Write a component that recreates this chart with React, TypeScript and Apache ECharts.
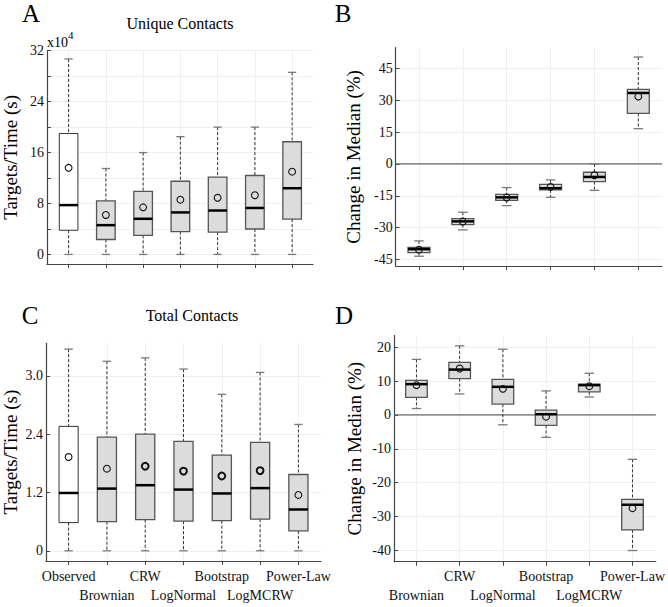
import React, { useEffect, useRef } from "react";
import * as echarts from "echarts";

const CATEGORIES = ["Observed", "Brownian", "CRW", "LogNormal", "Bootstrap", "LogMCRW", "Power-Law"];

// Panel A: Unique contacts (x10^4)
const A_MIN = [0, 0, 0, 0, 0, 0, 0];
const A_Q1 = [3.8, 2.35, 3.0, 3.6, 3.5, 4.0, 5.55];
const A_MEDIAN = [7.75, 4.6, 5.6, 6.6, 6.9, 7.3, 10.4];
const A_Q3 = [19.0, 8.4, 9.9, 11.5, 12.15, 12.4, 17.7];
const A_MAX = [30.7, 13.5, 16.0, 18.5, 20.0, 20.0, 28.6];
const A_MEAN = [13.6, 6.2, 7.4, 8.6, 8.9, 9.3, 13.0];

// Panel B: change in median (%) vs observed, models only
const B_MIN = [-43.4, -31.0, -19.6, -15.7, -12.4, 16.6];
const B_Q1 = [-41.7, -28.5, -17.1, -12.2, -8.3, 23.8];
const B_MEDIAN = [-40.1, -27.0, -15.7, -11.4, -6.1, 33.4];
const B_Q3 = [-39.2, -25.7, -14.3, -9.6, -3.9, 35.1];
const B_MAX = [-36.2, -22.7, -11.1, -7.5, 0, 50.3];
const B_MEAN = [-40.3, -27.1, -15.8, -10.8, -5.3, 31.7];

// Panel C: Total contacts
const C_MIN = [0, 0, 0, 0, 0, 0, 0];
const C_Q1 = [0.58, 0.6, 0.64, 0.61, 0.62, 0.65, 0.41];
const C_MEDIAN = [1.19, 1.28, 1.35, 1.26, 1.18, 1.29, 0.85];
const C_Q3 = [2.56, 2.34, 2.4, 2.25, 1.97, 2.23, 1.57];
const C_MAX = [4.15, 3.9, 3.97, 3.74, 3.22, 3.67, 2.6];
const C_MEAN = [1.93, 1.69, 1.74, 1.64, 1.54, 1.65, 1.15];

// Panel D: change in median (%)
const D_MIN = [1.9, 6.2, -2.9, -6.6, 5.3, -40.0];
const D_Q1 = [5.2, 10.7, 3.2, -3.1, 6.8, -33.9];
const D_MEDIAN = [9.1, 13.4, 8.3, 0.2, 8.8, -26.5];
const D_Q3 = [10.2, 15.5, 10.5, 1.4, 9.1, -24.9];
const D_MAX = [16.4, 20.4, 19.4, 7.1, 12.3, -13.1];
const D_MEAN = [8.8, 13.7, 7.7, -0.5, 8.5, -27.5];

// Tick values / labels
const A_TICKS = [0, 4, 8, 12, 16, 20, 24, 28, 32];
const A_LABELS = [0, 8, 16, 24, 32];
const B_LABELS = [-45, -30, -15, 0, 15, 30, 45];
const C_TICK_VALUES = [0, 1.2, 2.4, 3.6];
const C_TICK_LABELS = ["0", "1.2", "2.4", "3.0"];
const D_LABELS = [-40, -30, -20, -10, 0, 10, 20];
const X_ALL = [1, 2, 3, 4, 5, 6, 7];
const X_MODELS = [1, 2, 3, 4, 5, 6];
// staggered category label rows (positions on each panel's x scale)
const C_ROW1 = [1, 3, 5, 7];
const C_ROW2 = [2, 4, 6];
const D_ROW1 = [2, 4, 6];
const D_ROW2 = [1, 3, 5];

const SERIF = "'Liberation Serif', 'Times New Roman', serif";

function rows(mins: number[], q1: number[], med: number[], q3: number[], max: number[], mean: number[]) {
  return mins.map((m, i) => [i + 1, m, q1[i], med[i], q3[i], max[i], mean[i]]);
}

function boxSeries(idx: number, data: number[][], firstIsObserved: boolean, boldMeans: number[]) {
  return {
    type: "custom",
    xAxisIndex: idx,
    yAxisIndex: idx,
    data,
    encode: { x: 0, y: [1, 2, 3, 4, 5, 6] },
    z: 3,
    clip: false,
    silent: true,
    renderItem: (params: any, api: any) => {
      const x = api.value(0);
      const pMin = api.coord([x, api.value(1)]);
      const pQ1 = api.coord([x, api.value(2)]);
      const pMed = api.coord([x, api.value(3)]);
      const pQ3 = api.coord([x, api.value(4)]);
      const pMax = api.coord([x, api.value(5)]);
      const pMean = api.coord([x, api.value(6)]);
      const l = api.coord([x - 0.25, 0])[0];
      const r = api.coord([x + 0.25, 0])[0];
      const cx = pMed[0];
      const capHalf = (r - l) * 0.22;
      const observed = firstIsObserved && params.dataIndex === 0;
      const bold = boldMeans.indexOf(params.dataIndex) >= 0;
      const whisk = { stroke: "#333", lineWidth: 1, lineDash: [3, 2] };
      const cap = { stroke: "#7a7a7a", lineWidth: 1.3 };
      return {
        type: "group",
        children: [
          { type: "line", shape: { x1: cx, y1: pMax[1], x2: cx, y2: pQ3[1] }, style: whisk },
          { type: "line", shape: { x1: cx, y1: pQ1[1], x2: cx, y2: pMin[1] }, style: whisk },
          { type: "line", shape: { x1: cx - capHalf, y1: pMax[1], x2: cx + capHalf, y2: pMax[1] }, style: cap },
          { type: "line", shape: { x1: cx - capHalf, y1: pMin[1], x2: cx + capHalf, y2: pMin[1] }, style: cap },
          {
            type: "rect",
            shape: { x: l, y: pQ3[1], width: r - l, height: pQ1[1] - pQ3[1] },
            style: { fill: observed ? "#ffffff" : "#dcdcdc", stroke: observed ? "#333" : "#555", lineWidth: observed ? 1 : 1.3 },
          },
          { type: "line", shape: { x1: l, y1: pMed[1], x2: r, y2: pMed[1] }, style: { stroke: "#000", lineWidth: 2.5 } },
          {
            type: "circle",
            shape: { cx, cy: pMean[1], r: 3.4 },
            style: { fill: "none", stroke: "#111", lineWidth: bold ? 2 : 1.1 },
          },
        ],
      };
    },
  };
}

const GRID_LINE = { show: true, lineStyle: { color: "#f0f0f0", width: 1 } };

function yAxis(idx: number, min: number, max: number, ticks: number[], labels: number[], name: string, nameGap: number, fmt?: (v: number) => string) {
  return {
    type: "value",
    gridIndex: idx,
    min,
    max,
    name,
    nameLocation: "middle",
    nameGap,
    nameTextStyle: { fontFamily: SERIF, fontSize: 19, color: "#000" },
    axisLine: { show: true, onZero: false, lineStyle: { color: "#444", width: 1.2 } },
    axisTick: { show: true, inside: true, length: 4, customValues: ticks, lineStyle: { color: "#444" } },
    axisLabel: {
      show: true,
      customValues: labels,
      margin: 3,
      fontFamily: SERIF,
      fontSize: 14,
      color: "#111",
      showMinLabel: true,
      showMaxLabel: true,
      hideOverlap: false,
      formatter: fmt || ((v: number) => String(v)),
    },
    splitLine: GRID_LINE,
  };
}

function xAxis(gridIdx: number, min: number, max: number, ticks: number[] | null, labels: number[] | null, offsetIndex: number, margin: number) {
  return {
    type: "value",
    gridIndex: gridIdx,
    min,
    max,
    position: "bottom",
    axisLine: { show: !!ticks, onZero: false, lineStyle: { color: "#444", width: 1.2 } },
    axisTick: { show: !!ticks, inside: false, length: 4, customValues: ticks || [], lineStyle: { color: "#444" } },
    axisLabel: {
      show: !!labels,
      customValues: labels || [],
      margin,
      fontFamily: SERIF,
      fontSize: 14,
      color: "#111",
      showMinLabel: true,
      showMaxLabel: true,
      hideOverlap: false,
      formatter: (v: number) => CATEGORIES[Math.round(v) - 1 + offsetIndex],
    },
    splitLine: ticks ? GRID_LINE : { show: false },
  };
}

function zeroLine(idx: number, xmin: number, xmax: number) {
  return {
    type: "line",
    xAxisIndex: idx,
    yAxisIndex: idx,
    data: [
      [xmin, 0],
      [xmax, 0],
    ],
    symbol: "none",
    silent: true,
    z: 1,
    lineStyle: { color: "#6a6a6a", width: 1.3 },
  };
}

function label(text: string, x: number, y: number, size: number, align = "center") {
  return {
    type: "text",
    x,
    y,
    style: { text, fontSize: size, fontFamily: SERIF, fill: "#000", align, verticalAlign: "middle", textAlign: align, textVerticalAlign: "middle" },
  };
}

export default function App() {
  const ref = useRef<HTMLDivElement>(null);
  useEffect(() => {
    if (!ref.current) return;
    const chart = echarts.init(ref.current, undefined, { renderer: "svg" });
    const AX = [0.42, 7.56];
    const BX = [0.47, 6.54];
    const CX = [0.41, 7.59];
    const DX = [0.48, 6.54];
    const option: any = {
      animation: false,
      backgroundColor: "#ffffff",
      grid: [
        { left: 46.7, top: 50.7, width: 266.3, height: 213.3 },
        { left: 395.7, top: 47.7, width: 266.3, height: 218.3 },
        { left: 45.7, top: 343.3, width: 275.3, height: 217.7 },
        { left: 394, top: 335.5, width: 268, height: 226.2 },
      ],
      xAxis: [
        xAxis(0, AX[0], AX[1], X_ALL, null, 0, 8),
        xAxis(1, BX[0], BX[1], X_MODELS, null, 1, 8),
        xAxis(2, CX[0], CX[1], X_ALL, C_ROW1, 0, 8),
        xAxis(3, DX[0], DX[1], X_MODELS, D_ROW1, 1, 8),
        xAxis(2, CX[0], CX[1], null, C_ROW2, 0, 27),
        xAxis(3, DX[0], DX[1], null, D_ROW2, 1, 27),
      ],
      yAxis: [
        yAxis(0, -1.5, 32, A_TICKS, A_LABELS, "Targets/Time (s)", 27),
        yAxis(1, -48, 54.7, B_LABELS, B_LABELS, "Change in Median (%)", 33),
        yAxis(2, -0.21, 4.27, C_TICK_VALUES, C_TICK_VALUES, "Targets/Time (s)", 26, (v: number) => {
          let best = 0;
          C_TICK_VALUES.forEach((t, i) => {
            if (Math.abs(t - v) < Math.abs(C_TICK_VALUES[best] - v)) best = i;
          });
          return C_TICK_LABELS[best];
        }),
        yAxis(3, -43.3, 23.45, D_LABELS, D_LABELS, "Change in Median (%)", 30.5),
      ],
      series: [
        zeroLine(1, BX[0], BX[1]),
        zeroLine(3, DX[0], DX[1]),
        boxSeries(0, rows(A_MIN, A_Q1, A_MEDIAN, A_Q3, A_MAX, A_MEAN), true, []),
        boxSeries(1, rows(B_MIN, B_Q1, B_MEDIAN, B_Q3, B_MAX, B_MEAN), false, []),
        boxSeries(2, rows(C_MIN, C_Q1, C_MEDIAN, C_Q3, C_MAX, C_MEAN), true, [2, 3, 4, 5]),
        boxSeries(3, rows(D_MIN, D_Q1, D_MEDIAN, D_Q3, D_MAX, D_MEAN), false, []),
      ],
      graphic: [
        label("A", 31, 13, 25),
        label("B", 343, 13, 25),
        label("C", 30, 315, 25),
        label("D", 344, 315, 25),
        label("Unique Contacts", 180, 23, 16),
        label("Total Contacts", 192, 315, 16),
        label("x10", 47, 42, 14, "left"),
        label("4", 68, 35, 11, "left"),
      ],
    };
    chart.setOption(option);
    return () => chart.dispose();
  }, []);
  return <div ref={ref} style={{ position: "fixed", left: 0, top: 0, width: 668, height: 607, background: "#fff" }} />;
}
